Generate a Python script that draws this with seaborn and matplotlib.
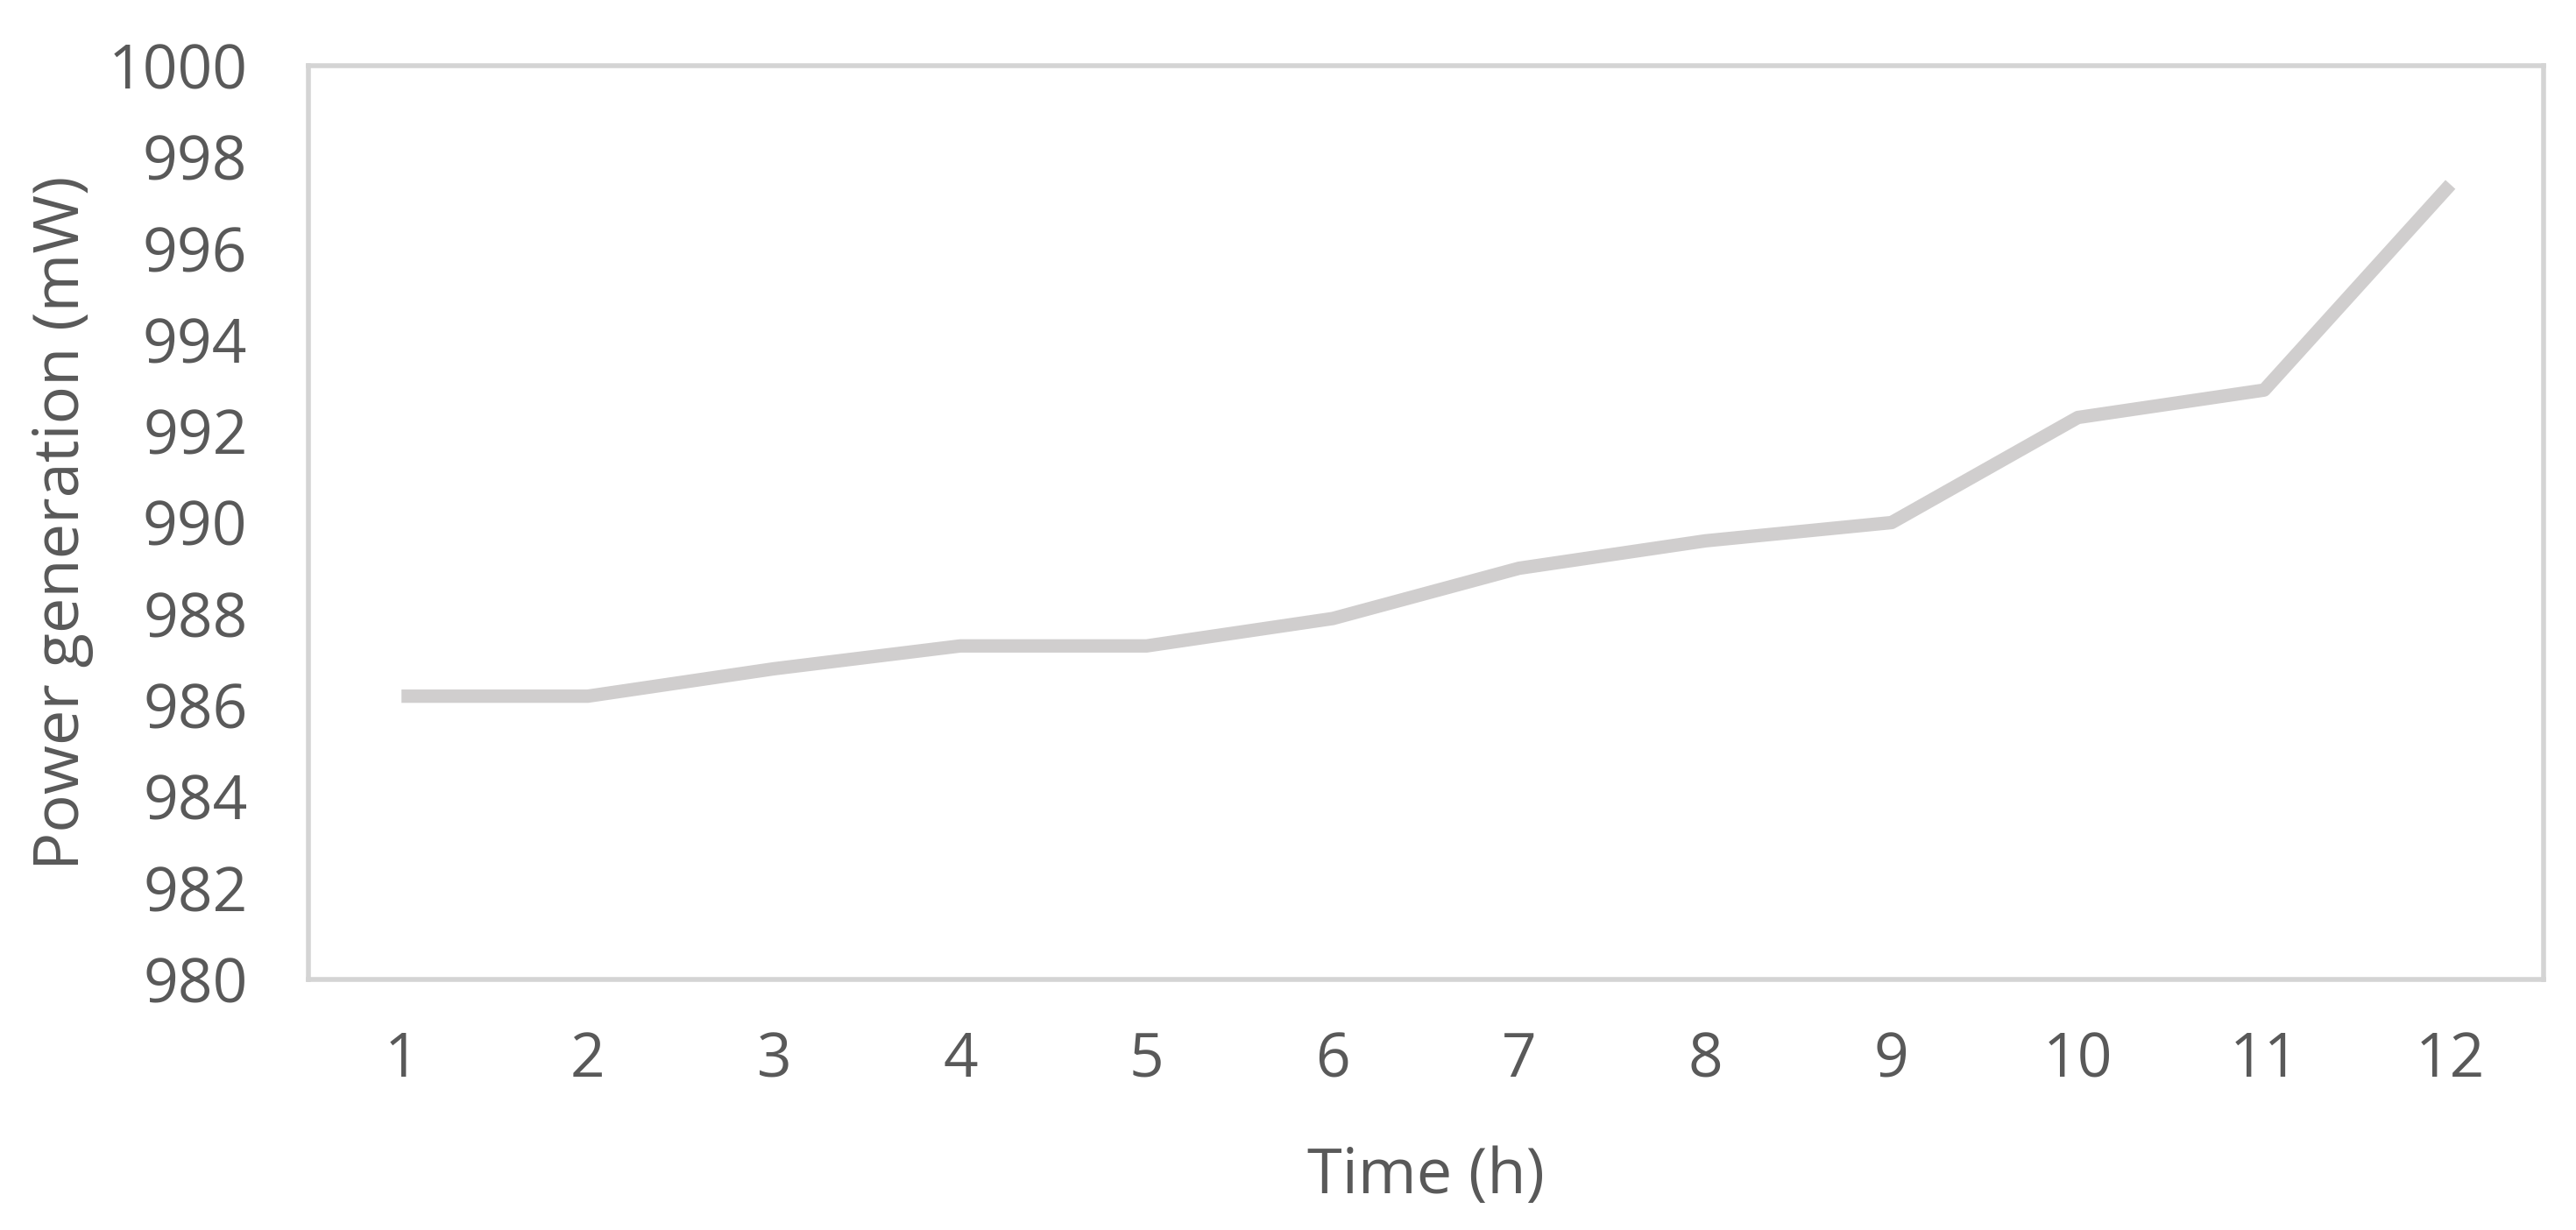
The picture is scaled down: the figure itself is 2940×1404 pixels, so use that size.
import matplotlib
matplotlib.use("Agg")
import matplotlib.pyplot as plt
import numpy as np
import pandas as pd
import seaborn as sns

# values
hours = [1, 2, 3, 4, 5, 6, 7, 8, 9, 10, 11, 12]
power_mw = [986.2, 986.2, 986.8, 987.3, 987.3, 987.9, 989.0, 989.6, 990.0, 992.3, 992.9, 997.4]
y_ticks = [980, 982, 984, 986, 988, 990, 992, 994, 996, 998, 1000]

if __name__ == '__main__':
    sns.set_style("white")
    plt.rcParams['font.family'] = ['Open Sans', 'DejaVu Sans']
    text_col = '#595959'
    edge_col = '#d4d4d4'

    df = pd.DataFrame({'hour': hours, 'power': power_mw})

    fig = plt.figure(figsize=(14.7, 7.02), dpi=200)
    ax = fig.add_axes([0.1197, 0.2037, 0.8677, 0.7429])

    sns.lineplot(data=df, x='hour', y='power', ax=ax, color='#d0cece',
                 linewidth=5.5, solid_capstyle='butt', solid_joinstyle='round')

    ax.set_xlim(0.5, 12.5)
    ax.set_ylim(980, 1000)
    ax.set_xticks(hours)
    ax.set_xticklabels([str(h) for h in hours])
    ax.set_yticks(y_ticks)
    ax.set_yticklabels([str(v) for v in y_ticks])
    ax.tick_params(axis='both', length=0, labelsize=25, colors=text_col)
    ax.tick_params(axis='x', pad=21)
    ax.tick_params(axis='y', pad=25)

    ax.set_xlabel("Time (h)", fontsize=26, color=text_col, labelpad=22)
    ax.set_ylabel("Power generation (mW)", fontsize=26, color=text_col)
    ax.yaxis.set_label_coords(-0.096, 0.5)

    for s in ax.spines.values():
        s.set_visible(True)
        s.set_color(edge_col)
        s.set_linewidth(2.0)
    ax.grid(False)

    fig.savefig('out.png', dpi=200)
